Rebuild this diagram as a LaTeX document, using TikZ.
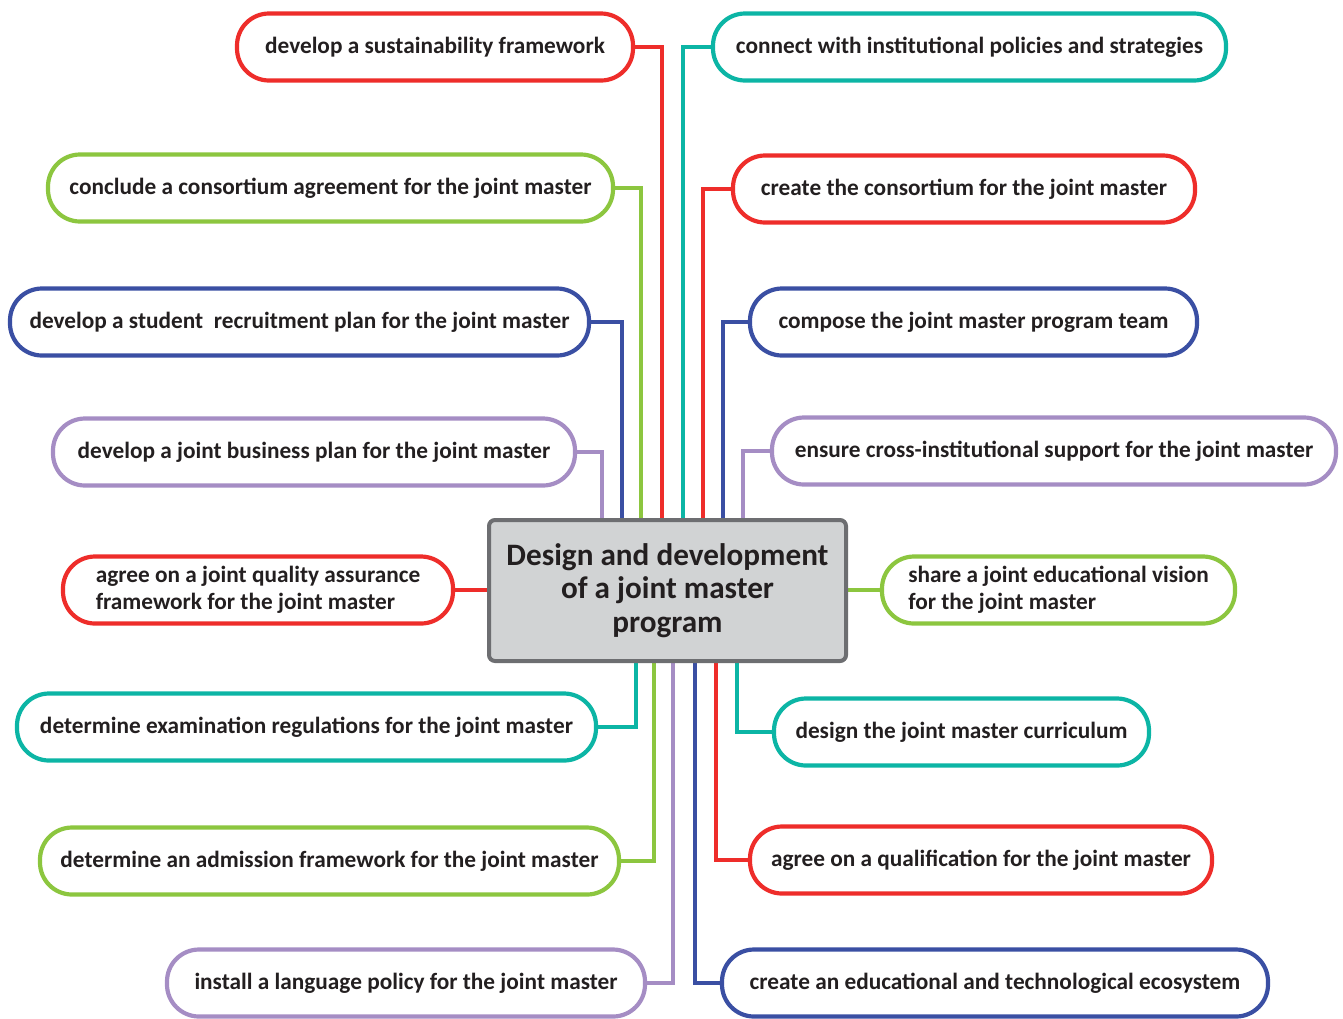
\documentclass[tikz,border=0pt]{standalone}
\usepackage{fontspec}
\setmainfont{Carlito}
\usetikzlibrary{positioning}
\definecolor{cred}{HTML}{EE2D2A}
\definecolor{cteal}{HTML}{0CB5A5}
\definecolor{cgreen}{HTML}{8CC63F}
\definecolor{cblue}{HTML}{3A4FA3}
\definecolor{cpurple}{HTML}{A58DC4}
\definecolor{cgrayfill}{HTML}{D1D3D4}
\definecolor{cgrayline}{HTML}{6D6E71}
\definecolor{ctext}{HTML}{231F20}
\pgfdeclarelayer{bg}
\pgfsetlayers{bg,main}
\tikzset{
  pill/.style={draw=#1, line width=4.2pt, fill=white, rounded corners=32pt,
    minimum height=67pt, inner xsep=10pt, inner ysep=0pt, text=ctext,
    font=\fontsize{23.3}{27}\selectfont\bfseries, align=left},
  conn/.style={draw=#1, line width=4pt},
  hub/.style={draw=cgrayline, fill=cgrayfill, line width=4pt, rounded corners=6pt,
    minimum width=357pt, minimum height=141pt, text=ctext, align=center,
    font=\fontsize{31.2}{33.5}\selectfont\bfseries}
}
\begin{document}
\begin{tikzpicture}[x=1pt,y=-1pt]
\useasboundingbox (0,0) rectangle (1343,1018);
\node[hub] (c) at (667.5,590.5) {Design and development\\of a joint master\\program};
% left column
\node[pill=cred, minimum width=396pt] (sus) at (435,47) {develop a sustainability framework};
\node[pill=cgreen, minimum width=565pt] (agr) at (330.5,188) {conclude a consortium agreement for the joint master};
\node[pill=cblue, minimum width=579pt] (rec) at (299.5,322) {develop a student\ \ recruitment plan for the joint master};
\node[pill=cpurple, minimum width=522pt] (bus) at (314,452) {develop a joint business plan for the joint master};
\node[pill=cred, minimum width=390pt] (qa) at (258,590) {agree on a joint quality assurance\\framework for the joint master};
\node[pill=cteal, minimum width=579pt] (exam) at (306.5,727) {determine examination regulations for the joint master};
\node[pill=cgreen, minimum width=579pt] (adm) at (329.5,861) {determine an admission framework for the joint master};
\node[pill=cpurple, minimum width=478pt] (lang) at (406,983) {install a language policy for the joint master};
% right column
\node[pill=cteal, minimum width=513pt] (con) at (969.5,47) {connect with institutional policies and strategies};
\node[pill=cred, minimum width=462pt] (cre) at (964,189) {create the consortium for the joint master};
\node[pill=cblue, minimum width=447pt] (team) at (973.5,322) {compose the joint master program team};
\node[pill=cpurple, minimum width=564pt] (ens) at (1054,451) {ensure cross-institutional support for the joint master};
\node[pill=cgreen, minimum width=353pt] (vis) at (1058.5,590) {share a joint educational vision\\for the joint master};
\node[pill=cteal, minimum width=375pt] (cur) at (961.5,732) {design the joint master curriculum};
\node[pill=cred, minimum width=462pt] (qual) at (981,860) {agree on a qualification for the joint master};
\node[pill=cblue, minimum width=546pt] (eco) at (995,983) {create an educational and technological ecosystem};
\begin{pgfonlayer}{bg}
% top connectors
\draw[conn=cpurple] (bus.east) -| ([xshift=-65.5pt]c.north);
\draw[conn=cblue] (rec.east) -| ([xshift=-45.5pt]c.north);
\draw[conn=cgreen] (agr.east) -| ([xshift=-26.5pt]c.north);
\draw[conn=cred] (sus.east) -| ([xshift=-5.5pt]c.north);
\draw[conn=cteal] (con.west) -| ([xshift=15.5pt]c.north);
\draw[conn=cred] (cre.west) -| ([xshift=35.5pt]c.north);
\draw[conn=cblue] (team.west) -| ([xshift=55.5pt]c.north);
\draw[conn=cpurple] (ens.west) -| ([xshift=75.5pt]c.north);
% side connectors
\draw[conn=cred] (qa.east) -- (qa.east -| c.west);
\draw[conn=cgreen] (vis.west) -- (vis.west -| c.east);
% bottom connectors
\draw[conn=cteal] (exam.east) -| ([xshift=-31.5pt]c.south);
\draw[conn=cgreen] (adm.east) -| ([xshift=-13.5pt]c.south);
\draw[conn=cpurple] (lang.east) -| ([xshift=5.5pt]c.south);
\draw[conn=cblue] (eco.west) -| ([xshift=27.5pt]c.south);
\draw[conn=cred] (qual.west) -| ([xshift=48.5pt]c.south);
\draw[conn=cteal] (cur.west) -| ([xshift=69.5pt]c.south);
\end{pgfonlayer}
\end{tikzpicture}
\end{document}
